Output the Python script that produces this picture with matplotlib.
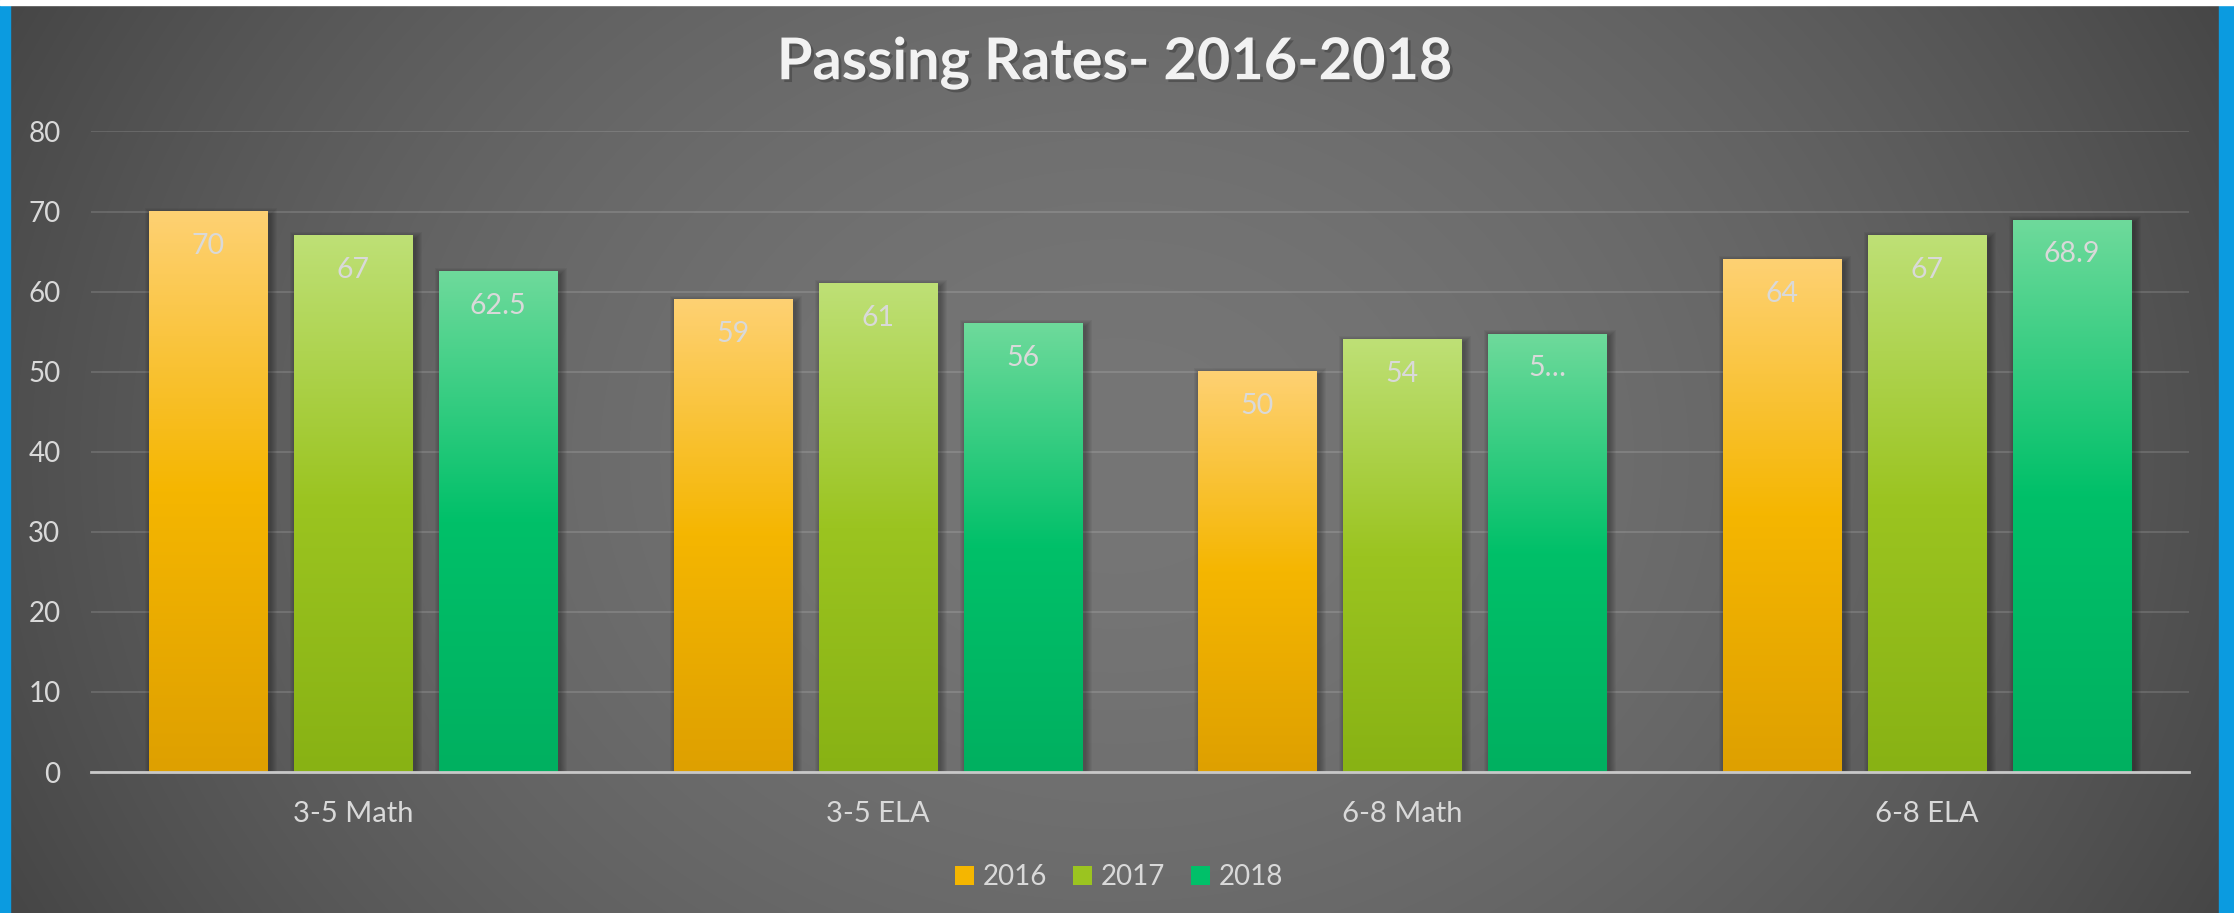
import numpy as np
import matplotlib
matplotlib.use('Agg')
import matplotlib.pyplot as plt
import matplotlib.patheffects as pe
from matplotlib.patches import Rectangle, Patch
from matplotlib.colors import LinearSegmentedColormap

# data
categories = ['3-5 Math', '3-5 ELA', '6-8 Math', '6-8 ELA']
years = ['2016', '2017', '2018']
rate_2016 = [70, 59, 50, 64]
rate_2017 = [67, 61, 54, 67]
rate_2018 = [62.5, 56, 54.7, 68.9]
labels_2016 = ['70', '59', '50', '64']
labels_2017 = ['67', '61', '54', '67']
labels_2018 = ['62.5', '56', '5…', '68.9']
yticks = [0, 10, 20, 30, 40, 50, 60, 70, 80]

# gradient colours top -> middle -> bottom
grad_2016 = ['#fed173', '#f5b600', '#dea000']
grad_2017 = ['#bee076', '#9bc420', '#88b214']
grad_2018 = ['#6eda9b', '#00c069', '#00b060']

plt.rcParams['font.family'] = ['Lato', 'DejaVu Sans']
W, H = 2234, 913

fig = plt.figure(figsize=(W/100., H/100.), dpi=100)

# background: grey radial-ish gradient, blue side strips, white top strip
bg = fig.add_axes([0, 0, 1, 1], zorder=-10)
bg.axis('off')
yy, xx = np.mgrid[0:1:H*1j, 0:1:W*1j]
r = np.sqrt(((xx-0.5)/0.5)**2 + ((yy-0.5)/1.0)**2)
v = (118 - 40*np.clip(r, 0, 1.1)**1.8)/255.
bg.imshow(np.dstack([v, v, v]), extent=[0, 1, 0, 1], aspect='auto')
bg.set_xlim(0, 1)
bg.set_ylim(0, 1)
bg.add_patch(Rectangle((0, 0), 10./W, 1, color='#0b9be0'))
bg.add_patch(Rectangle((2219./W, 0), 15./W, 1, color='#0b9be0'))
bg.add_patch(Rectangle((0, 1-5./H), 1, 5./H, color='white'))

ax = fig.add_axes([91./W, 1-772./H, 2098./W, 640.5/H])
ax.set_facecolor('none')

x = np.arange(len(categories))
w = 0.225
offsets = [-0.2765, 0, 0.2765]
px = 4./2098   # one pixel in x data units
py = 80./640.5 # one pixel in y data units

series = [(rate_2016, labels_2016, grad_2016),
          (rate_2017, labels_2017, grad_2017),
          (rate_2018, labels_2018, grad_2018)]

grad = np.linspace(0, 1, 256).reshape(-1, 1)
for i, (vals, labs, cols) in enumerate(series):
    cmap = LinearSegmentedColormap.from_list('g%d' % i, [cols[2], cols[1], cols[0]])
    for j in range(len(categories)):
        xc = x[j] + offsets[i]
        x0 = xc - w/2
        h = vals[j]
        # soft drop shadow
        for k in range(1, 8):
            ax.add_patch(Rectangle((x0 - k*px + 3*px, -1), w + 2*k*px, h + 1 + k*py - 3*py,
                                   facecolor='black', edgecolor='none', alpha=0.045, zorder=2))
        ax.imshow(grad, cmap=cmap, origin='lower', extent=[x0, x0+w, 0, h],
                  aspect='auto', zorder=3, interpolation='bicubic')
        ax.annotate(labs[j], (xc, h), xytext=(0, -24.5), textcoords='offset points',
                    ha='center', va='center', fontsize=20.5, color='#d9d9d9', zorder=5)

ax.set_xlim(-0.5, 3.5)
ax.set_ylim(0, 80)
ax.set_xticks(x)
ax.set_xticklabels(categories)
ax.set_yticks(yticks)
ax.yaxis.grid(True, color='white', alpha=0.13, lw=1.5)
ax.set_axisbelow(True)
for s in ['top', 'right', 'left']:
    ax.spines[s].set_visible(False)
ax.spines['bottom'].set_color('#c8c8c8')
ax.spines['bottom'].set_linewidth(2)
ax.spines['bottom'].set_zorder(6)
ax.tick_params(axis='y', length=0, pad=22, labelsize=20, labelcolor='#d9d9d9')
ax.tick_params(axis='x', length=0, pad=21, labelsize=21, labelcolor='#d9d9d9')

fig.text(0.4989, 0.931, 'Passing Rates- 2016-2018', ha='center', va='center',
         fontsize=41.5, fontweight='bold', color='#f2f2f2',
         path_effects=[pe.SimplePatchShadow(offset=(2, -2), alpha=0.7), pe.Normal()])

handles = [Patch(facecolor=c[1]) for c in [grad_2016, grad_2017, grad_2018]]
fig.legend(handles, years, loc='center', bbox_to_anchor=(0.501, 0.039), ncol=3,
           frameon=False, fontsize=20, handlelength=0.68, handleheight=0.68,
           handletextpad=0.32, columnspacing=0.94, labelcolor='#d9d9d9')

fig.savefig('out.png', dpi=100)
